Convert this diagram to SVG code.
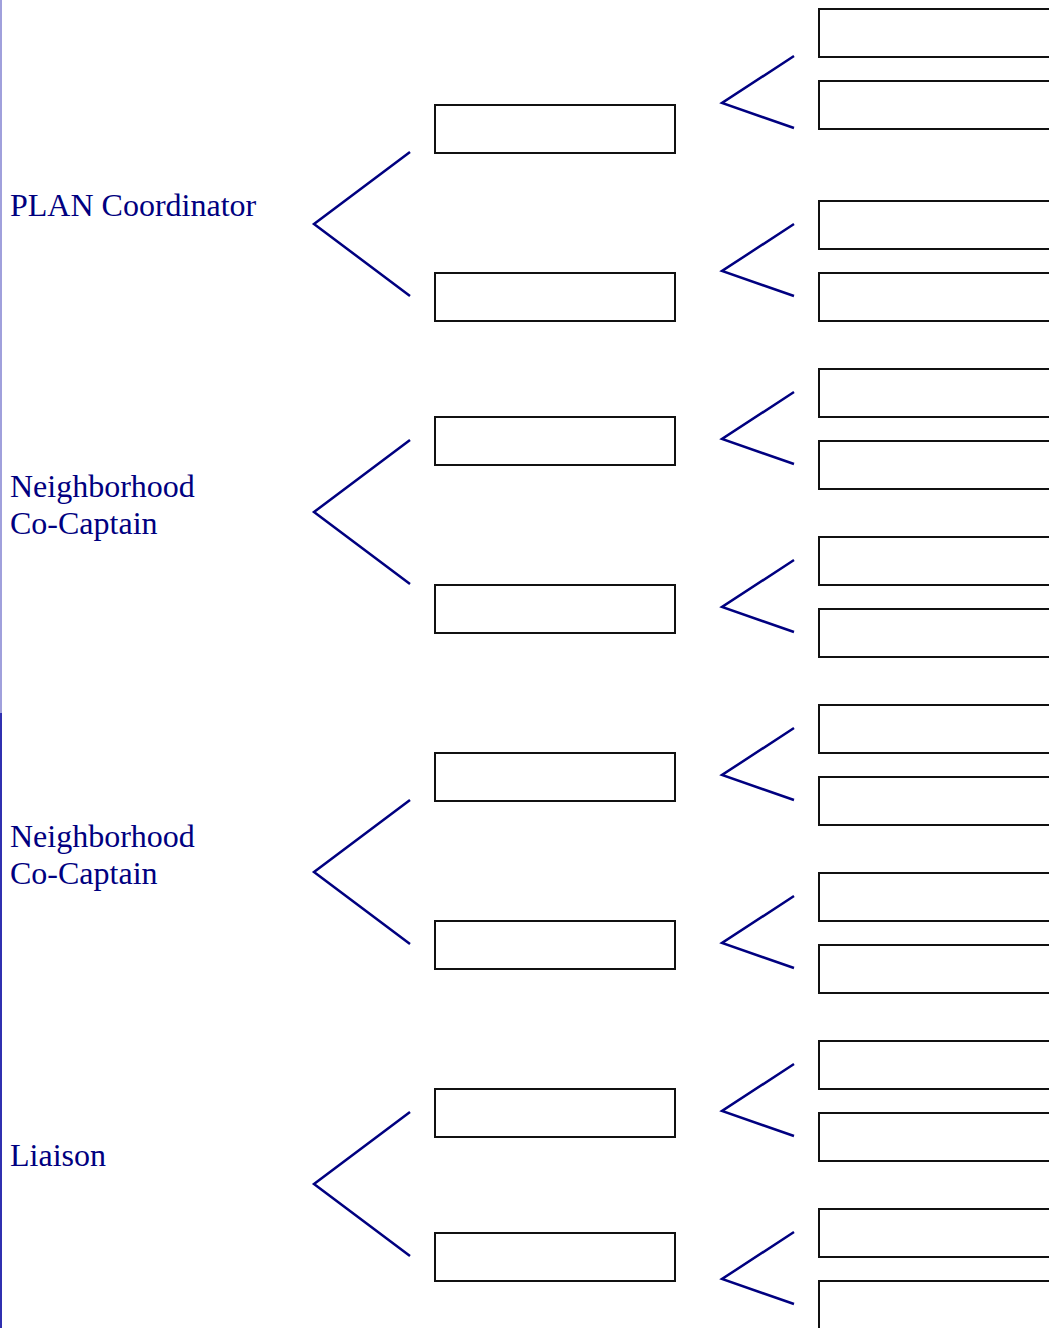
<svg xmlns="http://www.w3.org/2000/svg" width="1049" height="1328" viewBox="0 0 1049 1328">
<style>
.lbl{font-family:"Liberation Serif","Times New Roman",serif;font-size:32px;fill:#000080}
.box{fill:#fff;stroke:#111;stroke-width:2}
.con{fill:none;stroke:#000080;stroke-width:2.5;stroke-linejoin:miter}
</style>
<rect width="1049" height="1328" fill="#fff"/>
<rect x="0" y="0" width="2" height="713" fill="#a0a0dc"/>
<rect x="0" y="713" width="2" height="615" fill="#3030b0"/>
<g id="labels">
<text class="lbl" x="10" y="216">PLAN Coordinator</text>
<text class="lbl" x="10" y="497">Neighborhood</text>
<text class="lbl" x="10" y="534">Co-Captain</text>
<text class="lbl" x="10" y="847">Neighborhood</text>
<text class="lbl" x="10" y="884">Co-Captain</text>
<text class="lbl" x="10" y="1166">Liaison</text>
</g>
<g id="connectors">
<polyline class="con" points="410,152 314,224 410,296"/>
<polyline class="con" points="410,440 314,512 410,584"/>
<polyline class="con" points="410,800 314,872 410,944"/>
<polyline class="con" points="410,1112 314,1184 410,1256"/>
<polyline class="con" points="794,56 722,103 794,128"/>
<polyline class="con" points="794,224 722,271 794,296"/>
<polyline class="con" points="794,392 722,439 794,464"/>
<polyline class="con" points="794,560 722,607 794,632"/>
<polyline class="con" points="794,728 722,775 794,800"/>
<polyline class="con" points="794,896 722,943 794,968"/>
<polyline class="con" points="794,1064 722,1111 794,1136"/>
<polyline class="con" points="794,1232 722,1279 794,1304"/>
</g>
<g id="mid-boxes">
<rect id="m1" class="box" x="435" y="105" width="240" height="48"/>
<rect id="m2" class="box" x="435" y="273" width="240" height="48"/>
<rect id="m3" class="box" x="435" y="417" width="240" height="48"/>
<rect id="m4" class="box" x="435" y="585" width="240" height="48"/>
<rect id="m5" class="box" x="435" y="753" width="240" height="48"/>
<rect id="m6" class="box" x="435" y="921" width="240" height="48"/>
<rect id="m7" class="box" x="435" y="1089" width="240" height="48"/>
<rect id="m8" class="box" x="435" y="1233" width="240" height="48"/>
</g>
<g id="right-boxes">
<rect id="r1" class="box" x="819" y="9" width="260" height="48"/>
<rect id="r2" class="box" x="819" y="81" width="260" height="48"/>
<rect id="r3" class="box" x="819" y="201" width="260" height="48"/>
<rect id="r4" class="box" x="819" y="273" width="260" height="48"/>
<rect id="r5" class="box" x="819" y="369" width="260" height="48"/>
<rect id="r6" class="box" x="819" y="441" width="260" height="48"/>
<rect id="r7" class="box" x="819" y="537" width="260" height="48"/>
<rect id="r8" class="box" x="819" y="609" width="260" height="48"/>
<rect id="r9" class="box" x="819" y="705" width="260" height="48"/>
<rect id="r10" class="box" x="819" y="777" width="260" height="48"/>
<rect id="r11" class="box" x="819" y="873" width="260" height="48"/>
<rect id="r12" class="box" x="819" y="945" width="260" height="48"/>
<rect id="r13" class="box" x="819" y="1041" width="260" height="48"/>
<rect id="r14" class="box" x="819" y="1113" width="260" height="48"/>
<rect id="r15" class="box" x="819" y="1209" width="260" height="48"/>
<rect id="r16" class="box" x="819" y="1281" width="260" height="60"/>
</g>
</svg>
